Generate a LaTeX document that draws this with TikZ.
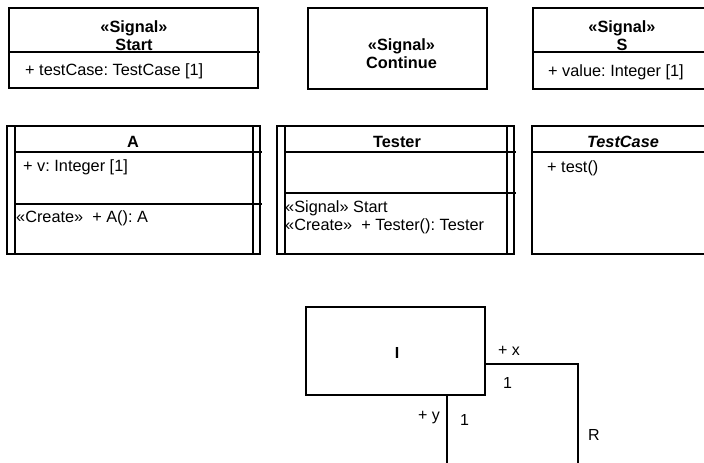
\documentclass[tikz,border=0pt]{standalone}
\usepackage{fontspec}
\setmainfont{Liberation Sans}
\frenchspacing
\begin{document}
\begin{tikzpicture}[x=1pt,y=-1pt,
  box/.style={draw, line width=1.6pt, rectangle, inner sep=0pt},
  div/.style={line width=1.6pt},
  thin/.style={line width=1.4pt},
  conn/.style={line width=1.4pt},
  txt/.style={inner sep=0pt, font=\fontsize{16.3}{18}\selectfont},
  ttl/.style={txt, font=\fontsize{16.3}{18}\selectfont\bfseries, anchor=base},
  att/.style={txt, anchor=base west},
  lab/.style={inner sep=0pt, font=\fontsize{16}{18}\selectfont, anchor=base west}]
\clip (0,0) rectangle (704,463);
% row 1
\node[box, minimum width=249pt, minimum height=80pt] (start) at (133.5,48) {};
\node[ttl] (startS) at (134,32.5) {«Signal»};
\node[ttl] (startN) at (134,50.5) {Start};
\draw[div] (start.west |- 0,52) -- (260,52);
\node[att] (startA) at (25,75.5) {+ testCase: TestCase [1]};

\node[box, minimum width=179pt, minimum height=81pt] (cont) at (397.5,48.5) {};
\node[ttl] (contS) at (401.5,50) {«Signal»};
\node[ttl] (contN) at (401.5,68.5) {Continue};

\node[box, minimum width=250pt, minimum height=81pt] (sig) at (658,48.5) {};
\node[ttl] (sigS) at (622,32.5) {«Signal»};
\node[ttl] (sigN) at (622,50.5) {S};
\draw[div] (sig.west |- 0,52) -- (sig.east |- 0,52);
\node[att] (sigA) at (548,76) {+ value: Integer [1]};

% row 2
\node[box, minimum width=253pt, minimum height=128pt] (a) at (133.5,190) {};
\draw[thin] (15,126) -- (15,254) (253,126) -- (253,254);
\draw[div] (15,152) -- (262,152) (15,204) -- (262,204);
\node[ttl] (aN) at (133,147.5) {A};
\node[att] (aA) at (23,171.5) {+ v: Integer [1]};
\node[att] (aO) at (16,222.5) {«Create»\ \ + A(): A};

\node[box, minimum width=237pt, minimum height=128pt] (tester) at (395.5,190) {};
\draw[thin] (285,126) -- (285,254) (507,126) -- (507,254);
\draw[div] (285,152) -- (516,152) (285,193) -- (516,193);
\node[ttl] (tN) at (397,147.5) {Tester};
\node[att] (tO1) at (285,212.5) {«Signal» Start};
\node[att] (tO2) at (285,230.5) {«Create»\ \ + Tester(): Tester};

\node[box, minimum width=250pt, minimum height=128pt] (tc) at (657,190) {};
\draw[div] (tc.west |- 0,152) -- (tc.east |- 0,152);
\node[ttl, font=\fontsize{16.3}{18}\selectfont\bfseries\itshape] (tcN) at (623,147.5) {TestCase};
\node[att] (tcO) at (547,172) {+ test()};

% bottom
\node[box, minimum width=179pt, minimum height=88pt] (I) at (395.5,351) {};
\node[ttl, font=\fontsize{16}{18}\selectfont\bfseries] (IN) at (397,358.5) {I};
\coordinate (rc) at (578,364);
\coordinate (rb) at (578,470);
\coordinate (yb) at (447,470);
\draw[conn] (I.east |- rc) -- (rc) -- (rb);
\draw[conn] (I.south -| yb) -- (yb);
\node[lab] (px) at (498,355) {+ x};
\node[lab] (m1) at (503,388) {1};
\node[lab] (py) at (418,420) {+ y};
\node[lab] (m2) at (460,425) {1};
\node[lab] (rl) at (588,440) {R};
\end{tikzpicture}
\end{document}
